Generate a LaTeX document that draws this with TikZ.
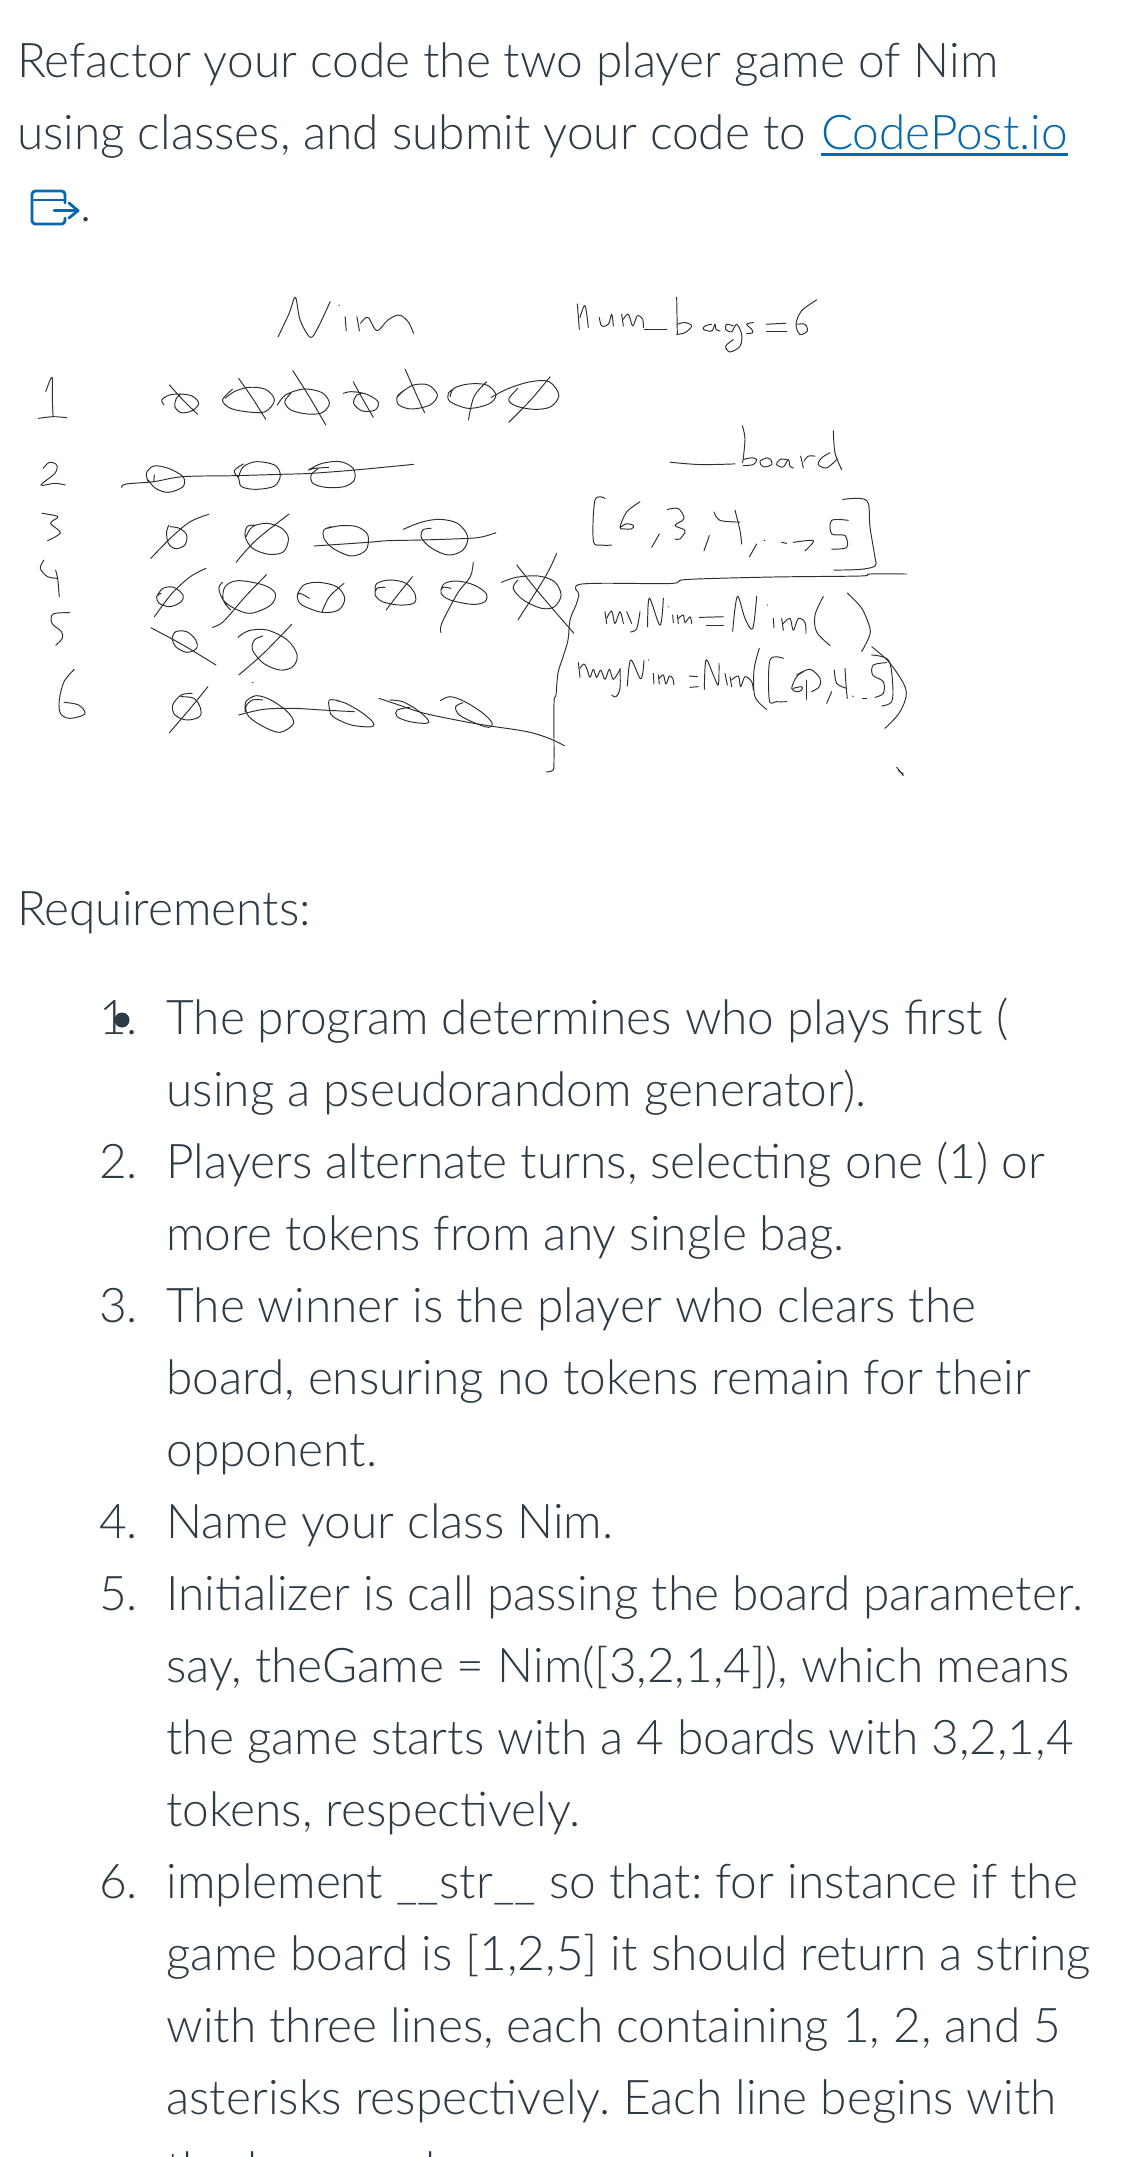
\documentclass[tikz,border=0pt]{standalone}
\usepackage{fontspec}
\setmainfont{Lato}[UprightFont=* Light]
\frenchspacing
\definecolor{ink}{HTML}{2D3B45}
\definecolor{linkc}{HTML}{0567AD}
\newcommand\stk[1]{\draw[hand] plot[smooth,tension=.55] coordinates {#1};}
\tikzset{
  hand/.style={draw=black!82,line width=.72pt,line cap=round,line join=round},
  txt/.style={anchor=base west,inner sep=0pt,outer sep=0pt,text=ink,font=\fontsize{35.85}{44}\selectfont},
  num/.style={anchor=base east,inner sep=0pt,outer sep=0pt,text=ink,font=\fontsize{35.85}{44}\selectfont},
  icon/.style={draw=linkc,line width=2.1pt,line cap=round,line join=round}
}
\begin{document}
\begin{tikzpicture}[x=.75pt,y=-.75pt]
\useasboundingbox (0,0) rectangle (1148,2157);
\clip (0,0) rectangle (1148,2157);
\fill[white] (0,0) rectangle (1148,2157);
% text
\node[txt] (t1) at (17,77) {Refactor your code the two player game of Nim};
\node[txt] (t2) at (17,149) {using classes, and submit your code to};
\node[txt,text=linkc] (lnk) at (821,149) {CodePost.io};
\draw[linkc,line width=1.9pt] ([yshift=-4.2pt]lnk.base west) -- ([yshift=-4.2pt]lnk.base east);
\draw[icon,rounded corners=2.5pt] (65,203) -- (65,191) -- (32,191) -- (32,224) -- (65,224) -- (65,218);
\draw[icon] (32,200) -- (65,200);
\draw[icon] (54,210.7) -- (78,210.7);
\draw[icon] (69,203) -- (78,210.7) -- (69,218);
\node[txt] (t3) at (80.5,221) {.};
\node[txt] (req) at (17,925) {Requirements:};
\node[num] (n1) at (138,1034) {1.};
\fill[ink] (122,1020) circle (7.5);
\node[txt] (a1) at (166.5,1034) {The program determines who plays first (};
\node[txt] (a2) at (166.5,1106) {using a pseudorandom generator).};
\node[num] (n2) at (138,1178) {2.};
\node[txt] (b1) at (166.5,1178) {Players alternate turns, selecting one (1) or};
\node[txt] (b2) at (166.5,1250) {more tokens from any single bag.};
\node[num] (n3) at (138,1322) {3.};
\node[txt] (c1) at (166.5,1322) {The winner is the player who clears the};
\node[txt] (c2) at (166.5,1394) {board, ensuring no tokens remain for their};
\node[txt] (c3) at (166.5,1466) {opponent.};
\node[num] (n4) at (138,1538) {4.};
\node[txt] (d1) at (166.5,1538) {Name your class Nim.};
\node[num] (n5) at (138,1610) {5.};
\node[txt] (e1) at (166.5,1610) {Initializer is call passing the board parameter.};
\node[txt] (e2) at (166.5,1682) {say, theGame = Nim([3,2,1,4]), which means};
\node[txt] (e3) at (166.5,1754) {the game starts with a 4 boards with 3,2,1,4};
\node[txt] (e4) at (166.5,1826) {tokens, respectively.};
\node[num] (n6) at (138,1898) {6.};
\node[txt] (f1) at (166.5,1898) {implement \_\_str\_\_ so that: for instance if the};
\node[txt] (f2) at (166.5,1970) {game board is [1,2,5] it should return a string};
\node[txt] (f3) at (166.5,2042) {with three lines, each containing 1, 2, and 5};
\node[txt] (f4) at (166.5,2114) {asterisks respectively. Each line begins with};
\node[txt] (f5) at (166.5,2186) {the bag number};
% handwriting, upper left
\begin{scope}[shift={(0,260)},x=.2745pt,y=-.25pt]
\stk{(760,230)(790,160)(807,112)(820,180)(848,232)(870,200)(902,125)}
\stk{(943,170)(946,213)} \stk{(926,135)(927,137)}
\stk{(975,170)(982,213)} \stk{(985,190)(1005,172)(1030,212)(1060,180)(1090,165)(1115,185)(1130,220)}
\stk{(125,395)(142,352)(143,420)(145,468)} \stk{(105,475)(145,470)(182,473)}
\stk{(118,625)(135,607)(155,615)(150,640)(112,675)(150,670)(178,675)}
\stk{(115,760)(158,770)(138,790)(165,818)(130,842)}
% row 1
\stk{(448,435)(442,420)(460,406)(490,402)(525,408)(543,430)(525,452)(495,458)(478,440)(482,415)(495,402)} \stk{(463,375)(500,420)(540,463)}
\stk{(635,388)(608,420)(630,445)(680,456)(725,455)(750,420)(725,388)(680,382)(640,395)(615,415)} \stk{(652,355)(690,415)(726,478)}
\stk{(758,435)(780,405)(830,387)(880,398)(900,430)(880,458)(840,462)(795,450)(778,425)(795,400)} \stk{(800,332)(845,410)(890,495)}
\stk{(938,400)(960,395)(1000,402)(1033,425)(1025,450)(990,453)(966,430)(975,405)(990,400)} \stk{(965,365)(990,415)(1020,472)}
\stk{(1105,390)(1085,410)(1090,435)(1125,447)(1175,435)(1195,405)(1170,375)(1130,375)(1100,395)(1085,412)} \stk{(1107,328)(1130,385)(1160,458)}
\stk{(1245,382)(1225,400)(1230,425)(1280,445)(1335,432)(1355,405)(1330,375)(1280,372)(1240,385)(1230,410)} \stk{(1330,365)(1295,410)(1280,480)}
\stk{(1342,412)(1390,385)(1450,365)(1500,365)(1527,405)(1505,440)(1460,448)(1410,438)(1390,418)(1415,385)} \stk{(1503,350)(1450,420)(1390,487)}
% row 2
\stk{(422,645)(420,665)} \stk{(405,665)(400,640)(420,618)(460,625)(500,650)(500,680)(460,697)(425,685)(405,660)}
\stk{(332,682)(345,672)(420,665)(500,650)(640,647)(765,643)(850,640)(970,630)(1130,613)}
\stk{(665,612)(640,632)(652,655)(660,680)(700,688)(750,678)(766,645)(750,615)(700,605)(665,620)(652,650)}
\stk{(898,622)(860,625)(843,630)(880,610)(930,605)(965,625)(968,660)(940,680)(890,682)(855,670)(850,645)(870,625)}
% row 3
\stk{(462,795)(455,815)(460,850)(480,866)(505,855)(510,825)(490,805)(465,800)} \stk{(412,895)(470,830)(520,785)(570,763)}
\stk{(695,795)(675,800)(670,830)(690,865)(735,883)(775,875)(788,835)(770,805)(730,790)(690,800)(672,830)} \stk{(645,907)(700,840)(790,762)}
\stk{(905,800)(885,810)(885,835)(910,865)(960,888)(1000,870)(1005,825)(975,800)(930,797)(895,805)}
\stk{(858,858)(1005,847)(1060,842)(1150,840)(1280,835)(1320,830)(1355,818)}
\stk{(1102,808)(1150,787)(1200,778)(1250,790)(1278,830)(1265,870)(1225,885)(1180,865)(1152,835)(1155,810)(1178,805)}
\end{scope}
% handwriting, lower left
\begin{scope}[shift={(0,500)},x=.2745pt,y=-.25pt]
\stk{(120,180)(110,205)(130,230)(158,235)} \stk{(152,210)(158,240)(162,290)}
\stk{(190,338)(145,342)(142,370)(168,395)(170,415)(152,436)}
\stk{(203,508)(175,545)(162,600)(165,640)(190,655)(232,642)(215,615)(175,607)}
% row 4
\stk{(440,280)(428,290)(435,310)(465,320)(495,305)(500,285)(475,262)(445,265)(428,290)} \stk{(422,350)(470,280)(520,230)(563,205)}
\stk{(608,247)(598,265)(610,300)(640,325)(685,340)(740,315)(752,280)(720,255)(650,242)(615,260)(610,300)(630,330)} \stk{(580,382)(610,365)(670,290)(728,224)}
\stk{(845,295)(820,280)(812,290)(825,315)(880,337)(925,330)(942,295)(920,260)(870,247)(830,255)(812,285)} \stk{(940,250)(900,290)(880,335)}
\stk{(1052,262)(1030,265)(1025,285)(1045,305)(1090,315)(1130,310)(1135,285)(1110,250)(1065,240)(1030,250)(1025,270)} \stk{(1127,230)(1090,280)(1055,330)}
\stk{(1232,265)(1210,262)(1205,280)(1230,300)(1290,313)(1325,305)(1328,280)(1295,255)(1250,243)(1215,250)(1205,270)} \stk{(1205,398)(1207,370)(1250,280)(1285,230)(1293,187)}
\stk{(1370,247)(1410,232)(1470,228)(1515,245)(1533,285)(1515,320)(1480,325)(1430,300)(1402,265)(1415,240)}
\stk{(1521,160)(1490,230)(1415,360)} \stk{(1412,195)(1470,275)(1568,400)}
% row 5
\stk{(470,415)(480,395)(510,395)(535,420)(537,445)(510,457)(480,440)(470,415)} \stk{(412,383)(500,435)(590,495)}
\stk{(650,412)(680,392)(730,390)(785,420)(812,465)(800,500)(765,510)(720,490)(690,450)(695,420)(718,408)} \stk{(797,373)(720,460)(652,525)}
\stk{(690,547)(691,548)}
% row 6
\stk{(525,580)(495,585)(472,615)(478,645)(510,660)(545,650)(548,625)(530,595)(495,590)} \stk{(568,560)(520,625)(463,698)}
\stk{(718,600)(690,600)(672,620)(680,650)(720,680)(765,697)(802,670)(785,635)(740,600)(700,587)(672,605)(670,635)}
\stk{(652,645)(720,628)(800,625)(880,630)(968,635)}
\stk{(925,602)(900,600)(900,625)(910,650)(960,675)(1015,680)(1018,665)(985,635)(945,610)(920,602)}
\stk{(1065,600)(1100,605)(1140,630)(1170,660)(1165,670)(1120,665)(1085,650)(1085,630)(1120,622)}
\stk{(1035,595)(1090,615)(1160,640)(1270,665)(1340,678)(1440,695)(1500,715)(1542,737)}
\stk{(1203,602)(1230,590)(1270,605)(1320,640)(1345,670)(1335,682)(1300,670)(1255,645)(1245,620)(1265,608)}
\end{scope}
% frame strokes
\stk{(546,772)(553,770)(554,760)(554,703)(556,695)(558,673)(563,657)(568,640)(570,620)(576,605)(579,595)(582,584)(670,583.5)(686.7,579.5)(773,577)(860,576)(870,574)(906.7,574)}
% handwriting, right
\begin{scope}[shift={(560,260)},x=.25pt,y=-.2536pt]
\stk{(52,130)(58,205)} \stk{(60,170)(75,135)(85,200)}
\stk{(118,170)(125,195)(145,190)(155,160)(160,195)}
\stk{(185,160)(190,195)} \stk{(190,175)(205,160)(218,195)(232,165)(248,175)(250,200)}
\stk{(252,205)(320,205)}
\stk{(350,110)(352,220)} \stk{(352,190)(375,185)(395,195)(375,215)(350,220)}
\stk{(455,190)(435,195)(430,205)(455,210)(465,190)(468,205)(480,210)}
\stk{(520,195)(500,190)(497,205)(515,212)(530,190)(545,220)(540,255)(510,272)(497,255)(520,235)}
\stk{(580,185)(560,190)(575,205)(578,215)(560,218)}
\stk{(618,190)(678,187)} \stk{(620,212)(680,212)}
\stk{(770,118)(725,150)(708,190)(720,220)(742,210)(735,190)(712,190)}
% __board
\stk{(330,598)(420,605)(525,603)}
\stk{(547,490)(555,530)(548,600)} \stk{(550,590)(575,585)(590,590)(580,605)(550,608)}
\stk{(620,585)(600,595)(610,612)(635,605)(632,590)(620,585)}
\stk{(680,590)(660,590)(650,605)(670,612)(685,590)(690,610)(700,615)}
\stk{(722,580)(730,615)} \stk{(732,595)(745,580)(765,580)}
\stk{(810,570)(785,585)(775,605)(800,615)(830,590)} \stk{(820,505)(825,570)(845,620)}
% list
\stk{(135,705)(105,710)(100,830)(125,843)(155,843)}
\stk{(240,715)(200,745)(180,790)(190,795)(215,795)(220,785)(200,780)(182,790)}
\stk{(298,810)(275,850)}
\stk{(322,738)(355,735)(372,765)(345,785)(375,800)(360,825)(345,825)}
\stk{(448,815)(432,860)}
\stk{(462,745)(480,770)(540,775)} \stk{(525,740)(540,800)(545,840)}
\stk{(590,840)(568,878)}
\stk{(612,828)(615,828)} \stk{(665,835)(680,838)} \stk{(700,835)(760,830)(735,860)}
\stk{(865,770)(815,770)(815,810)(855,815)(860,850)(815,855)}
\stk{(848,708)(900,705)(925,720)(930,790)(945,880)(945,905)(900,915)(822,917)}
% myNim = Nim( )
\stk{(135,1040)(140,1075)} \stk{(140,1060)(155,1038)(165,1075)(180,1040)(190,1075)}
\stk{(200,1040)(215,1075)} \stk{(240,1040)(230,1090)(212,1100)}
\stk{(263,1085)(268,1000)(300,1080)(310,1000)}
\stk{(338,1050)(340,1072)} \stk{(325,1025)(326,1026)}
\stk{(352,1050)(355,1075)} \stk{(355,1060)(370,1050)(375,1072)(390,1055)(395,1075)}
\stk{(418,1057)(490,1055)} \stk{(440,1082)(490,1082)}
\stk{(518,1098)(532,995)(555,1060)(578,1090)(590,995)}
\stk{(640,1060)(642,1088)} \stk{(622,1020)(623,1021)}
\stk{(665,1060)(670,1095)} \stk{(670,1075)(690,1060)(700,1095)(715,1060)(735,1072)(738,1105)}
\stk{(790,995)(765,1050)(770,1100)(810,1140)}
\stk{(862,985)(905,1030)(930,1090)(925,1120)(905,1158)}
\stk{(1010,1500)(1030,1525)} \stk{(1015,1510)(1030,1520)}
\end{scope}
% myNim = Nim([6,3,4..5])
\begin{scope}[shift={(570,640)},x=.25pt,y=-.25pt]
\stk{(25,68)(30,112)} \stk{(30,85)(42,72)(52,90)(60,112)(70,88)(80,112)(92,90)(105,118)(118,88)(130,118)(150,88)}
\stk{(150,85)(150,145)(138,170)(125,165)}
\stk{(172,138)(182,60)(210,115)(218,100)(222,62)} \stk{(235,60)(236,61)}
\stk{(250,100)(252,132)} \stk{(265,105)(268,132)} \stk{(268,115)(280,105)(288,132)(298,108)(308,115)(312,135)}
\stk{(358,108)(382,110)} \stk{(360,142)(385,140)}
\stk{(403,148)(408,60)(430,105)(445,135)(447,70)}
\stk{(465,100)(472,135)} \stk{(480,110)(485,140)} \stk{(485,120)(505,108)(512,140)(525,110)(545,125)(550,150)}
\stk{(568,25)(552,90)(555,170)(590,208)}
\stk{(640,55)(600,60)(598,180)(620,185)(650,185)}
\stk{(700,95)(680,110)(665,145)(680,155)(695,150)(695,140)(670,145)}
\stk{(680,105)(720,88)(750,115)(748,140)(725,155)} \stk{(710,120)(710,178)}
\stk{(785,155)(770,190)}
\stk{(793,90)(800,130)(830,145)} \stk{(825,85)(828,135)(832,175)}
\stk{(848,168)(850,170)} \stk{(878,175)(890,175)}
\stk{(950,68)(910,75)(908,105)(940,125)(940,160)(915,172)}
\stk{(905,45)(955,60)(968,130)(965,185)(935,198)}
\stk{(905,20)(960,70)(1008,150)(990,215)(945,265)}
\end{scope}
\end{tikzpicture}
\end{document}
